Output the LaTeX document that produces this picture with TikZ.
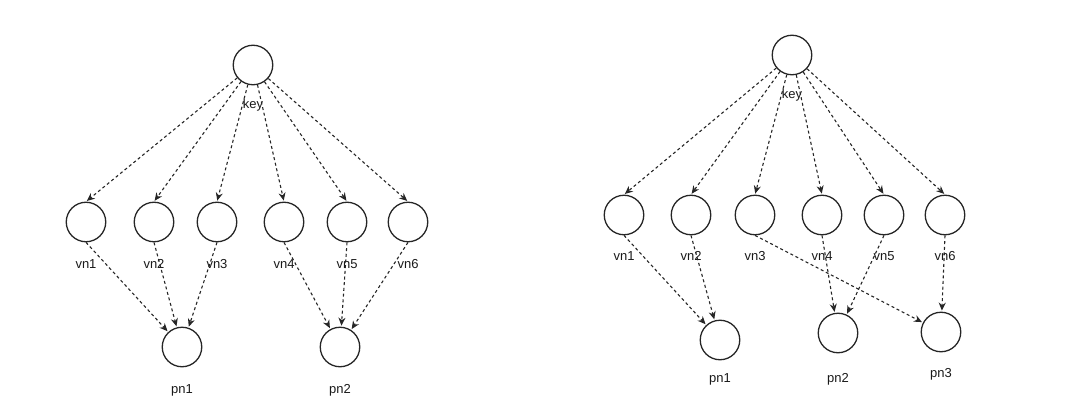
\documentclass[tikz,border=0pt]{standalone}
\usepackage{fontspec}
\setmainfont{Liberation Sans}
\usetikzlibrary{arrows.meta}
\tikzset{
nodecircle/.style={
	circle,
	minimum size=39.5pt,
	inner sep=0pt,
	draw=black!85,
	line width=1.3pt,
	fill=white
},
nodelabel/.style={
	anchor=base,
	inner sep=0pt,
	font=\fontsize{13}{15}\selectfont,
	text=black!90
},
maparrow/.style={
	-{Stealth[length=8pt,width=7pt]},
	draw=black!85,
	line width=1.1pt,
	dash pattern=on 3pt off 2.7pt,
	shorten >=1pt
}
}

\begin{document}
\begin{tikzpicture}[x=1pt, y=-1pt]
\useasboundingbox (0,0) rectangle (1080,415);

% left: every virtual node to its own physical node
\node (lkey) [nodecircle] at (253,65) {};
\node (lvn1) [nodecircle] at (86,222) {};
\node (lvn2) [nodecircle] at (154,222) {};
\node (lvn3) [nodecircle] at (217,222) {};
\node (lvn4) [nodecircle] at (284,222) {};
\node (lvn5) [nodecircle] at (347,222) {};
\node (lvn6) [nodecircle] at (408,222) {};
\node (lpn1) [nodecircle] at (182,347) {};
\node (lpn2) [nodecircle] at (340,347) {};

\node (lkeyt) [nodelabel] at ([yshift=-43pt]lkey.center) {key};
\node (lvn1t) [nodelabel] at ([yshift=-46pt]lvn1.center) {vn1};
\node (lvn2t) [nodelabel] at ([yshift=-46pt]lvn2.center) {vn2};
\node (lvn3t) [nodelabel] at ([yshift=-46pt]lvn3.center) {vn3};
\node (lvn4t) [nodelabel] at ([yshift=-46pt]lvn4.center) {vn4};
\node (lvn5t) [nodelabel] at ([yshift=-46pt]lvn5.center) {vn5};
\node (lvn6t) [nodelabel] at ([yshift=-46pt]lvn6.center) {vn6};
\node (lpn1t) [nodelabel] at ([yshift=-46pt]lpn1.center) {pn1};
\node (lpn2t) [nodelabel] at ([yshift=-46pt]lpn2.center) {pn2};

\draw [maparrow] (lkey) -- (lvn1.north);
\draw [maparrow] (lkey) -- (lvn2.north);
\draw [maparrow] (lkey) -- (lvn3.north);
\draw [maparrow] (lkey) -- (lvn4.north);
\draw [maparrow] (lkey) -- (lvn5.north);
\draw [maparrow] (lkey) -- (lvn6.north);
\draw [maparrow] (lvn1.south) -- (lpn1);
\draw [maparrow] (lvn2.south) -- (lpn1);
\draw [maparrow] (lvn3.south) -- (lpn1);
\draw [maparrow] (lvn4.south) -- (lpn2);
\draw [maparrow] (lvn5.south) -- (lpn2);
\draw [maparrow] (lvn6.south) -- (lpn2);

% right: a third physical node added
\node (rkey) [nodecircle] at (792,55) {};
\node (rvn1) [nodecircle] at (624,215) {};
\node (rvn2) [nodecircle] at (691,215) {};
\node (rvn3) [nodecircle] at (755,215) {};
\node (rvn4) [nodecircle] at (822,215) {};
\node (rvn5) [nodecircle] at (884,215) {};
\node (rvn6) [nodecircle] at (945,215) {};
\node (rpn1) [nodecircle] at (720,340) {};
\node (rpn2) [nodecircle] at (838,333) {};
\node (rpn3) [nodecircle] at (941,332) {};

\node (rkeyt) [nodelabel] at ([yshift=-43pt]rkey.center) {key};
\node (rvn1t) [nodelabel] at ([yshift=-45pt]rvn1.center) {vn1};
\node (rvn2t) [nodelabel] at ([yshift=-45pt]rvn2.center) {vn2};
\node (rvn3t) [nodelabel] at ([yshift=-45pt]rvn3.center) {vn3};
\node (rvn4t) [nodelabel] at ([yshift=-45pt]rvn4.center) {vn4};
\node (rvn5t) [nodelabel] at ([yshift=-45pt]rvn5.center) {vn5};
\node (rvn6t) [nodelabel] at ([yshift=-45pt]rvn6.center) {vn6};
\node (rpn1t) [nodelabel] at ([yshift=-42pt]rpn1.center) {pn1};
\node (rpn2t) [nodelabel] at ([yshift=-49pt]rpn2.center) {pn2};
\node (rpn3t) [nodelabel] at ([yshift=-45pt]rpn3.center) {pn3};

\draw [maparrow] (rkey) -- (rvn1.north);
\draw [maparrow] (rkey) -- (rvn2.north);
\draw [maparrow] (rkey) -- (rvn3.north);
\draw [maparrow] (rkey) -- (rvn4.north);
\draw [maparrow] (rkey) -- (rvn5.north);
\draw [maparrow] (rkey) -- (rvn6.north);
\draw [maparrow] (rvn1.south) -- (rpn1);
\draw [maparrow] (rvn2.south) -- (rpn1);
\draw [maparrow] (rvn3.south) -- (rpn3);
\draw [maparrow] (rvn4.south) -- (rpn2);
\draw [maparrow] (rvn5.south) -- (rpn2);
\draw [maparrow] (rvn6.south) -- (rpn3);

\end{tikzpicture}
\end{document}
